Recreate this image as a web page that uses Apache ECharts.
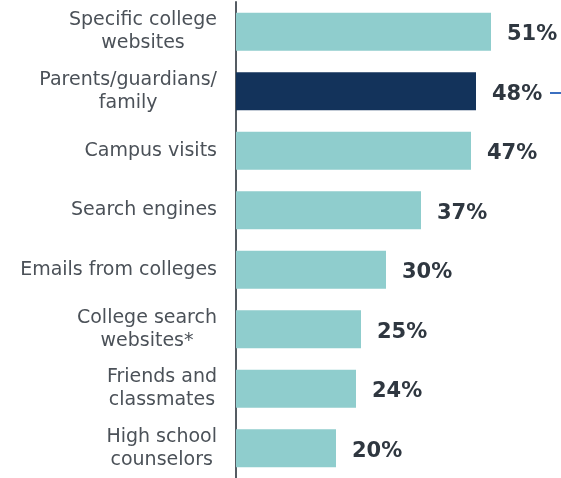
<!DOCTYPE html>
<html>
<head>
<meta charset="utf-8">
<script src="https://cdn.jsdelivr.net/npm/echarts@6/dist/echarts.min.js"></script>
<style>
  html, body { margin: 0; padding: 0; background: #ffffff; }
  #chart { width: 561px; height: 478px; }
</style>
</head>
<body>
<div id="chart"></div>
<script>
// Sources used when researching colleges, share of respondents (%)
const categories = [
  'Specific college\nwebsites',
  'Parents/guardians/\nfamily',
  'Campus visits',
  'Search engines',
  'Emails from colleges',
  'College search\nwebsites*',
  'Friends and\nclassmates',
  'High school\ncounselors'
];
const values = [51, 48, 47, 37, 30, 25, 24, 20];
const highlighted = 'Parents/guardians/\nfamily';

const tealColor = '#8fcdcd';
const navyColor = '#13335b';

const chart = echarts.init(document.getElementById('chart'), null, { renderer: 'canvas' });

chart.setOption({
  animation: false,
  backgroundColor: '#ffffff',
  grid: { left: 236, right: 25, top: 2, height: 480, containLabel: false },
  xAxis: {
    type: 'value',
    min: 0,
    max: 60,
    show: false
  },
  yAxis: {
    type: 'category',
    inverse: true,
    data: categories,
    axisLine: { show: true, lineStyle: { color: '#555c63', width: 2 } },
    axisTick: { show: false },
    axisLabel: {
      margin: 19,
      align: 'right',
      // each line of a wrapped label is centred under the longest one
      formatter: (v) => v.split('\n').map((line) => '{c|' + line + '}').join('\n'),
      rich: {
        c: {
          align: 'center',
          color: '#4b5158',
          fontFamily: 'DejaVu Sans',
          fontSize: 19,
          lineHeight: 23
        }
      }
    }
  },
  series: [{
    type: 'bar',
    barWidth: 38,
    data: values.map((v, i) => ({
      value: v,
      itemStyle: { color: categories[i] === highlighted ? navyColor : tealColor }
    })),
    label: {
      show: true,
      position: 'right',
      distance: 16,
      offset: [0, 3],
      formatter: '{c}%',
      color: '#2f3740',
      fontFamily: 'DejaVu Sans',
      fontWeight: 'bold',
      fontSize: 21
    }
  }],
  graphic: [{
    type: 'line',
    shape: { x1: 550, y1: 93, x2: 561, y2: 93 },
    style: { stroke: '#3b6fc0', lineWidth: 2 }
  }]
});
</script>
</body>
</html>
